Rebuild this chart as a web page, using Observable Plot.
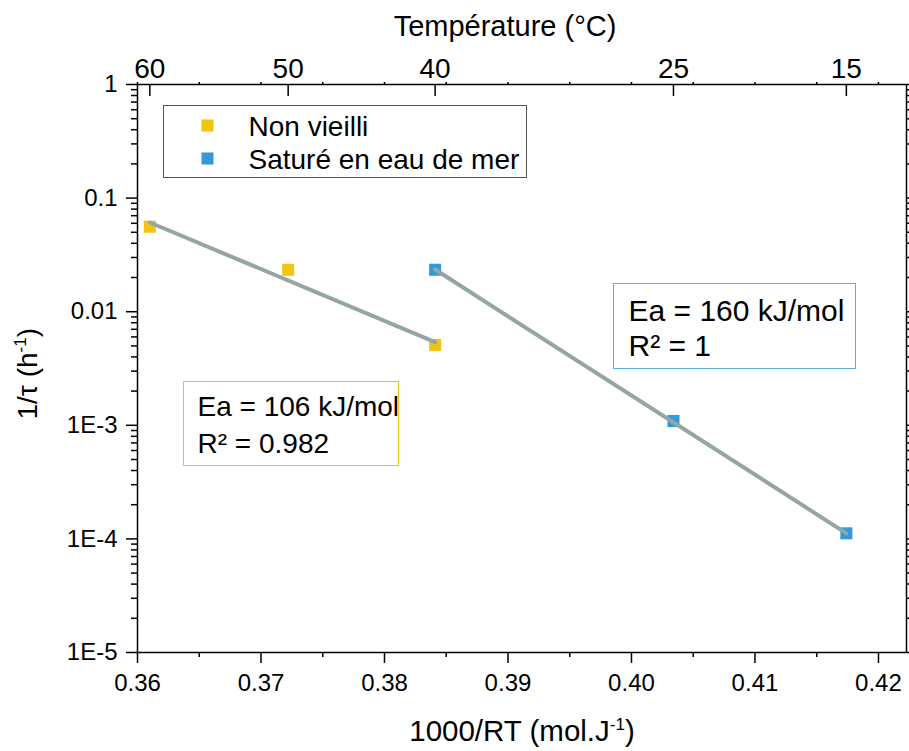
<!DOCTYPE html>
<html><head><meta charset="utf-8">
<script src="https://cdn.jsdelivr.net/npm/d3@7"></script>
<script src="https://cdn.jsdelivr.net/npm/@observablehq/plot@0.6"></script>
<style>body{margin:0;background:#fff;} svg{display:block}</style>
</head><body><div id="chart"></div>
<script>
// ---- data ----
const nonVieilliX = [0.3610, 0.3722, 0.3841];
const nonVieilliY = [0.056, 0.0234, 0.0051];
const satureX = [0.3841, 0.4034, 0.4174];
const satureY = [0.0234, 0.00109, 0.000112];
const fitNonX = [0.3610, 0.3841];
const fitNonY = [0.061, 0.0054];
const fitSatX = [0.3841, 0.4174];
const fitSatY = [0.0235, 0.000112];
const xTicks = [0.36, 0.37, 0.38, 0.39, 0.40, 0.41, 0.42];
const xTickLabels = ["0.36", "0.37", "0.38", "0.39", "0.40", "0.41", "0.42"];
const xMinorTicks = [0.365, 0.375, 0.385, 0.395, 0.405, 0.415];
const tempTicks = [0.3610, 0.3722, 0.3841, 0.4034, 0.4174];
const tempLabels = ["60", "50", "40", "25", "15"];
const yTicks = [1e-5, 1e-4, 1e-3, 0.01, 0.1, 1];
const yTickLabels = ["1E-5", "1E-4", "1E-3", "0.01", "0.1", "1"];
const seriesNames = ["Non vieilli", "Saturé en eau de mer"];
const seriesColors = ["#F1C40F", "#3498DB"];
const annotNon = ["Ea = 106 kJ/mol", "R² = 0.982"];
const annotSat = ["Ea = 160 kJ/mol", "R² = 1"];
const xTitle = "1000/RT (mol.J⁻¹)";
const yTitle = "1/τ (h⁻¹)";
const topTitle = "Température (°C)";

// ---- tables built from the arrays ----
const points = [
  ...nonVieilliX.map((x, i) => ({x, y: nonVieilliY[i], s: seriesNames[0]})),
  ...satureX.map((x, i) => ({x, y: satureY[i], s: seriesNames[1]}))
];
const fitNon = fitNonX.map((x, i) => ({x, y: fitNonY[i]}));
const fitSat = fitSatX.map((x, i) => ({x, y: fitSatY[i]}));
const yMinorTicks = yTicks.slice(0, -1).flatMap(d => [2,3,4,5,6,7,8,9].map(k => +(k * d).toPrecision(6)));
const xLab = new Map(xTicks.map((d, i) => [d, xTickLabels[i]]));
const yLab = new Map(yTicks.map((d, i) => [d, yTickLabels[i]]));
const tLab = new Map(tempTicks.map((d, i) => [d, tempLabels[i]]));

const W = 909, H = 751, mL = 137, mR = 3, mT = 84, mB = 99;
const plotH = H - mT - mB;
const lineColor = "#95A5A6";
const sw = 1.5;

const chart = Plot.plot({
  width: W, height: H,
  marginLeft: mL, marginRight: mR, marginTop: mT, marginBottom: mB,
  style: {fontFamily: "'Liberation Sans', Arial, Helvetica, sans-serif", background: "white", color: "black"},
  x: {domain: [0.36, 0.42227], label: null},
  y: {type: "log", domain: [1e-5, 1], label: null},
  color: {domain: seriesNames, range: seriesColors},
  marks: [
    // axes
    Plot.axisX(xTicks, {anchor: "bottom", tickSize: 11, tickPadding: 10, strokeWidth: sw, fontSize: 24, tickFormat: d => xLab.get(d), label: null}),
    Plot.axisX(xMinorTicks, {anchor: "bottom", tickSize: 5, strokeWidth: sw, tickFormat: () => "", label: null}),
    Plot.axisX([...xTicks, ...xMinorTicks], {anchor: "top", tickSize: 3, strokeWidth: sw, tickFormat: () => "", label: null}),
    Plot.axisX(tempTicks, {anchor: "top", tickSize: 0, tickPadding: 7, fontSize: 28, tickFormat: d => tLab.get(d), label: null}),
    Plot.ruleX(tempTicks, {insetBottom: plotH - 12, stroke: "black", strokeWidth: sw}),
    Plot.axisY(yTicks, {anchor: "left", tickSize: 11, tickPadding: 9, strokeWidth: sw, fontSize: 24, tickFormat: d => yLab.get(d), label: null}),
    Plot.axisY(yMinorTicks, {anchor: "left", tickSize: 6, strokeWidth: sw, tickFormat: () => "", label: null}),
    Plot.axisY(yTicks, {anchor: "right", tickSize: 11, strokeWidth: sw, tickFormat: () => "", label: null}),
    Plot.axisY(yMinorTicks, {anchor: "right", tickSize: 6, strokeWidth: sw, tickFormat: () => "", label: null}),
    Plot.frame({stroke: "black", strokeWidth: sw}),
    // axis titles
    Plot.text([topTitle], {text: d => d, frameAnchor: "top", dx: -17, dy: -49, lineAnchor: "bottom", fontSize: 29}),
    Plot.text([xTitle], {text: d => d, frameAnchor: "bottom", dx: 0, dy: 88, lineAnchor: "bottom", fontSize: 29.5}),
    Plot.text([yTitle], {text: d => d, frameAnchor: "left", dx: -101, dy: 51, rotate: -90, lineAnchor: "bottom", fontSize: 28}),
    // data
    Plot.dot(points, {x: "x", y: "y", fill: "s", symbol: "square", r: 6.8}),
    Plot.line(fitNon, {x: "x", y: "y", stroke: lineColor, strokeWidth: 4}),
    Plot.line(fitSat, {x: "x", y: "y", stroke: lineColor, strokeWidth: 4}),
    // legend
    Plot.frame({insetLeft: 26, insetTop: 21, insetRight: 380, insetBottom: 475, stroke: "#555", strokeWidth: 1, fill: "white"}),
    ...seriesNames.map((name, i) => Plot.dot([name], {frameAnchor: "top-left", dx: 70, dy: 41 + 33 * i, fill: seriesColors[i], symbol: "square", r: 6.8})),
    ...seriesNames.map((name, i) => Plot.text([name], {text: d => d, frameAnchor: "top-left", dx: 111, dy: 51 + 33 * i, textAnchor: "start", lineAnchor: "bottom", fontSize: 28})),
    // annotation boxes
    Plot.frame({insetLeft: 46, insetTop: 297, insetRight: 508, insetBottom: 187, stroke: "#F1C40F", strokeWidth: 1, fill: "white"}),
    ...annotNon.map((t, i) => Plot.text([t], {text: d => d, frameAnchor: "top-left", dx: 60, dy: 331 + 37 * i, textAnchor: "start", lineAnchor: "bottom", fontSize: 28})),
    Plot.frame({insetLeft: 476, insetTop: 199, insetRight: 51, insetBottom: 284, stroke: "#5DADE2", strokeWidth: 1, fill: "white"}),
    ...annotSat.map((t, i) => Plot.text([t], {text: d => d, frameAnchor: "top-left", dx: 491, dy: 236 + 35 * i, textAnchor: "start", lineAnchor: "bottom", fontSize: 30}))
  ]
});

// superscript "-1" in titles
const NS = "http://www.w3.org/2000/svg";
chart.querySelectorAll("text").forEach(t => {
  const s = t.textContent;
  if (s.includes("⁻¹") && t.querySelectorAll("tspan").length === 0) {
    const [pre, post] = s.split("⁻¹");
    t.textContent = "";
    const a = document.createElementNS(NS, "tspan"); a.textContent = pre;
    const b = document.createElementNS(NS, "tspan"); b.textContent = "-1";
    b.setAttribute("font-size", "17"); b.setAttribute("dy", "-11");
    const c = document.createElementNS(NS, "tspan"); c.textContent = post;
    c.setAttribute("dy", "11");
    t.append(a, b, c);
  }
});
document.getElementById("chart").append(chart);
</script>
</body></html>
